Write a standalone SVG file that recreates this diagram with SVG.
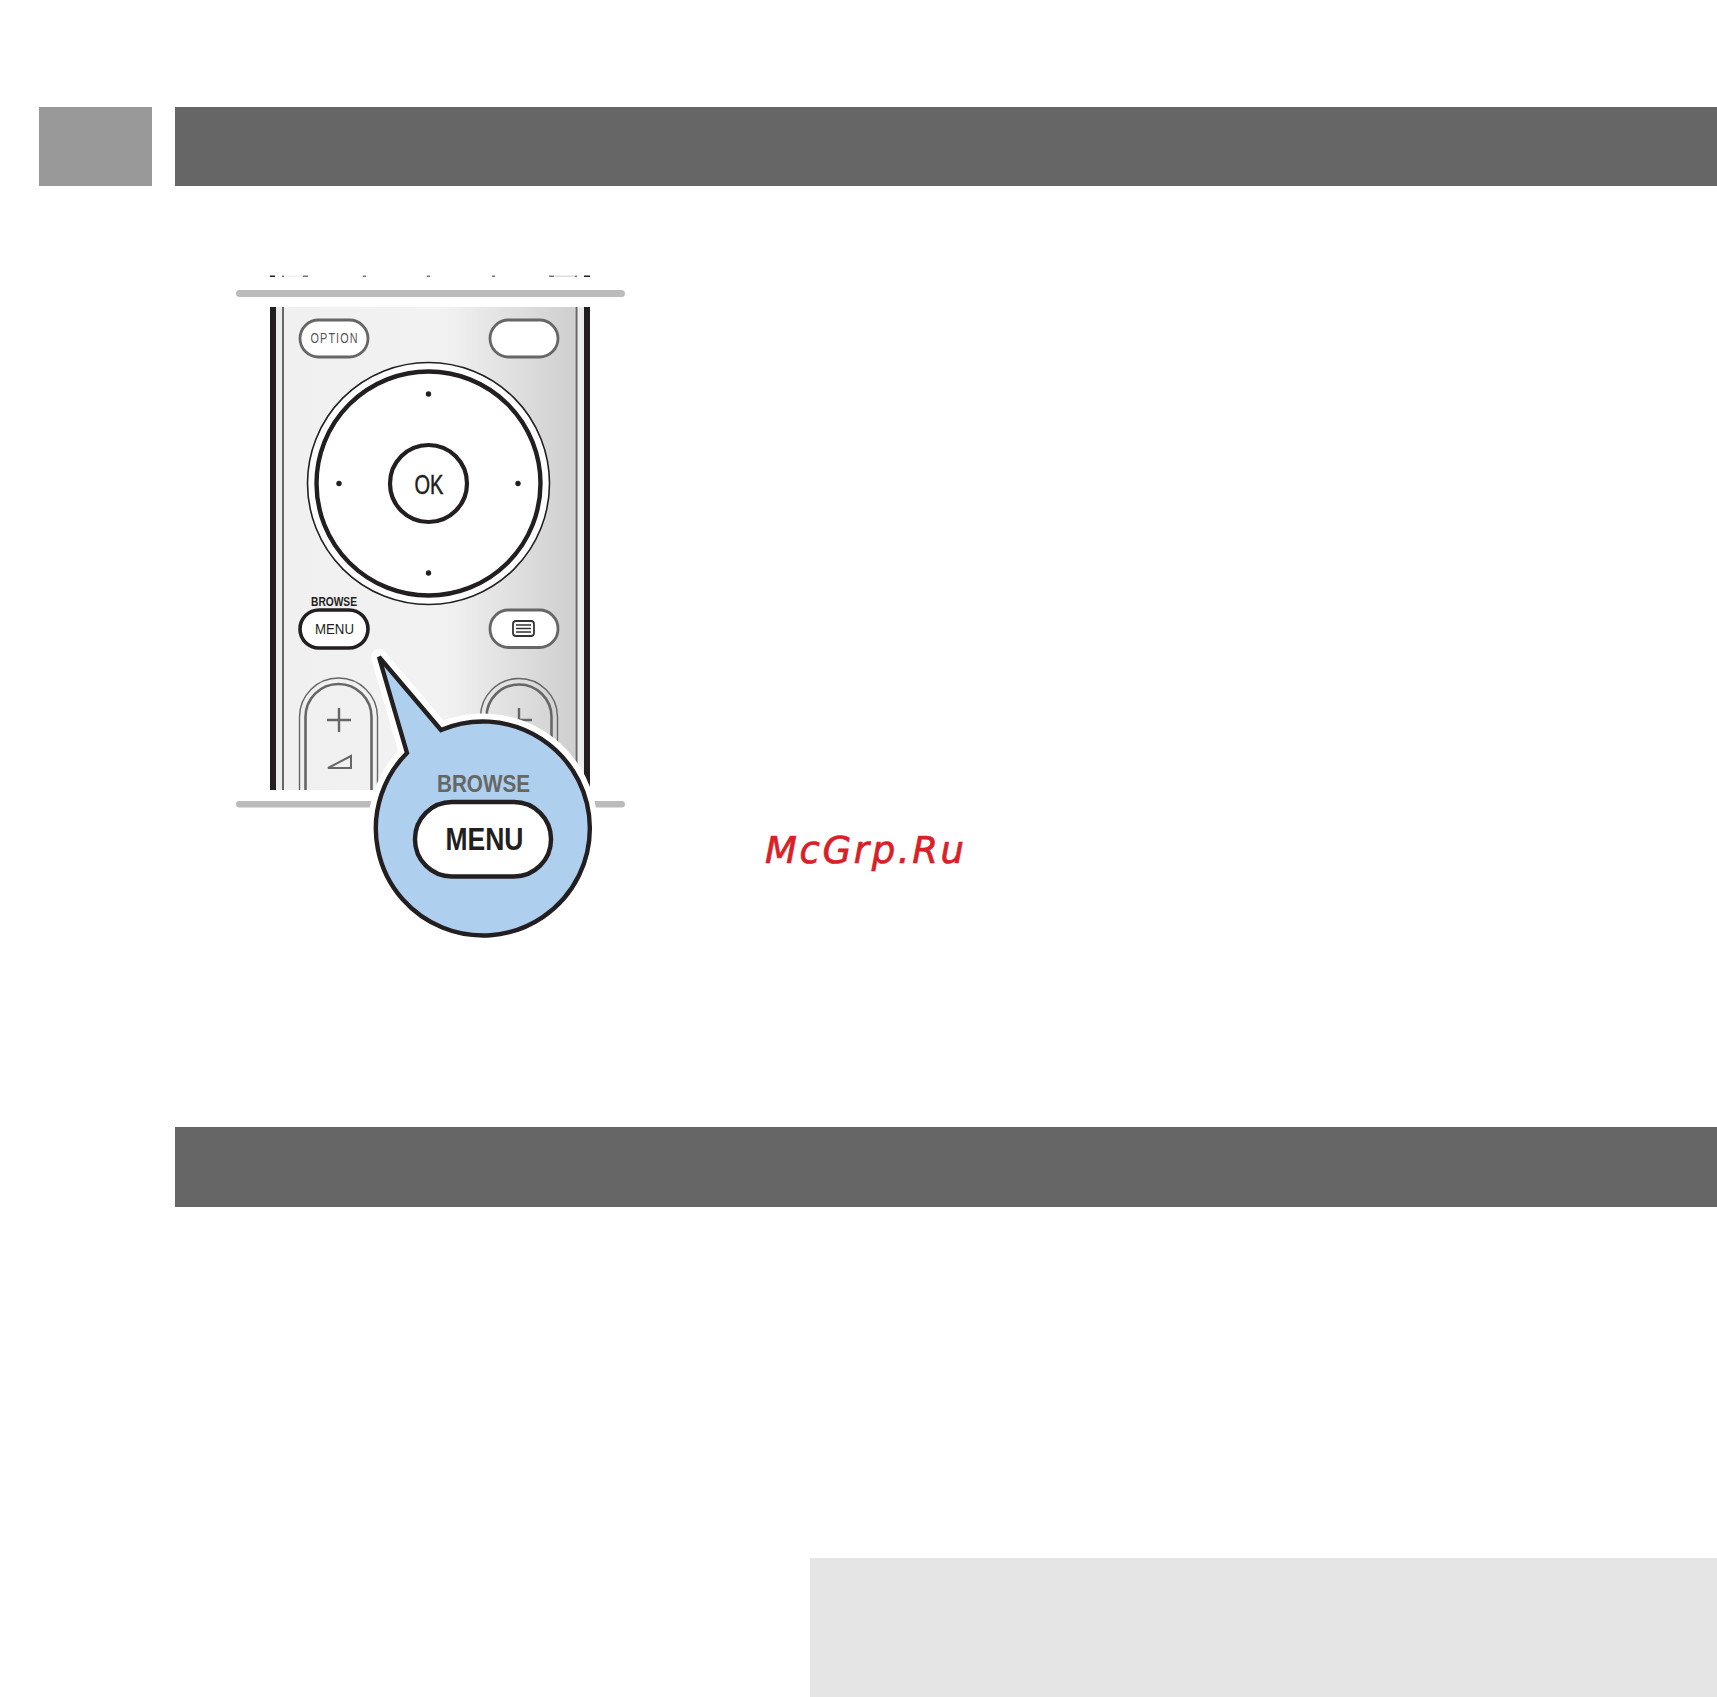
<svg xmlns="http://www.w3.org/2000/svg" width="1717" height="1697" viewBox="0 0 1717 1697">
<defs>
<linearGradient id="panel" x1="0" x2="1" y1="0" y2="0"><stop offset="0" stop-color="#f0f0f0"/><stop offset="0.55" stop-color="#f2f2f2"/><stop offset="1" stop-color="#cfcfcf"/></linearGradient>
<clipPath id="cut"><rect x="260" y="307" width="340" height="483"/></clipPath>
</defs>
<style>
text{font-family:"Liberation Sans Narrow","Liberation Sans",Arial,sans-serif}
.grey{fill:#fff;stroke:#666;stroke-width:2.8}
.blk{fill:#fff;stroke:#231f20;stroke-width:3.6}
.thin{fill:none;stroke:#666;stroke-width:1.4}
.med{fill:none;stroke:#666;stroke-width:2.6}
.dot{fill:#231f20}
.rail{fill:#bbb}
.tick{fill:#777}
.ink{fill:#231f20}
</style>
<rect width="1717" height="1697" fill="#fff"/>
<g id="section-number"><rect x="39" y="107" width="113" height="79" fill="#999"/></g>
<g id="header-1"><rect x="175" y="107" width="1542" height="79" fill="#666"/></g>
<g id="header-2"><rect x="175" y="1127" width="1542" height="80" fill="#666"/></g>
<g id="note-box"><rect x="810" y="1558" width="907" height="139" fill="#e5e5e5"/></g>

<g id="remote-top-fragments">
<rect class="ink" x="270" y="275.500" width="5" height="1.500"/><rect class="tick" x="282" y="275.500" width="2" height="1.500"/><rect x="284" y="275.500" width="19" height="1.500" fill="#f2f2f2"/><rect class="tick" x="303" y="275.500" width="5" height="1.500"/>
<rect class="tick" x="363" y="275.500" width="3" height="1.500"/><rect class="tick" x="427" y="275.500" width="3" height="1.500"/><rect class="tick" x="492" y="275.500" width="3" height="1.500"/>
<rect class="tick" x="549" y="275.500" width="5" height="1.500"/><rect x="554" y="275.500" width="21" height="1.500" fill="#ddd"/><rect class="tick" x="575" y="275.500" width="2" height="1.500"/><rect class="ink" x="584" y="275.500" width="6" height="1.500"/>
</g>
<g id="rail-top"><rect class="rail" x="236" y="290" width="389" height="7" rx="3.500"/></g>
<g id="rail-bottom"><rect class="rail" x="236" y="801" width="389" height="6.500" rx="3.250"/></g>

<g id="remote" clip-path="url(#cut)">
<rect x="276" y="307" width="308" height="483" fill="#ececec"/>
<rect x="284" y="307" width="291" height="483" fill="url(#panel)"/>
<rect class="ink" x="270" y="307" width="6" height="483"/>
<rect class="ink" x="584" y="307" width="6" height="483"/>
<rect fill="#666" x="282" y="307" width="2" height="483"/>
<rect fill="#666" x="575.500" y="307" width="2" height="483"/>
</g>

<g id="btn-option">
<rect class="grey" x="300" y="320" width="68" height="37" rx="18.500"/>
<text transform="translate(310.500 343) scale(0.72 1)" font-size="15" letter-spacing="1.600" fill="#555">OPTION</text>
</g>
<g id="btn-blank"><rect class="grey" x="490" y="320" width="68" height="37" rx="18.500"/></g>
<g id="dpad">
<circle cx="428.500" cy="483.500" r="121" fill="#fff" stroke="#231f20" stroke-width="1.600"/>
<circle cx="428.500" cy="483.500" r="112" fill="#fff" stroke="#231f20" stroke-width="4.400"/>
<circle class="dot" cx="428.500" cy="394" r="2.700"/><circle class="dot" cx="339" cy="483.500" r="2.700"/><circle class="dot" cx="518" cy="483.500" r="2.700"/><circle class="dot" cx="428.500" cy="573" r="2.700"/>
</g>
<g id="btn-ok">
<circle cx="428.500" cy="483.500" r="38.500" fill="#fff" stroke="#231f20" stroke-width="4.200"/>
<text x="414.500" y="494" font-size="27" fill="#231f20" stroke="#231f20" stroke-width="0.500" textLength="29" lengthAdjust="spacingAndGlyphs">OK</text>
</g>
<g id="btn-menu">
<text x="311" y="606" font-size="12.500" font-weight="700" fill="#231f20" textLength="46" lengthAdjust="spacingAndGlyphs">BROWSE</text>
<rect class="blk" x="300" y="610" width="68" height="38" rx="19"/>
<text x="315" y="634" font-size="15.500" fill="#231f20" textLength="39" lengthAdjust="spacingAndGlyphs">MENU</text>
</g>
<g id="btn-teletext">
<rect class="grey" x="490" y="610" width="68" height="37.500" rx="18.500"/>
<rect x="513" y="621" width="21" height="15" rx="3" fill="none" stroke="#333" stroke-width="1.800"/>
<path d="M516 625H531M516 628.500H531M516 632H531" fill="none" stroke="#333" stroke-width="1.500"/>
</g>
<g id="btn-volume">
<path class="thin" d="M299.500 790V717A39 39 0 0 1 377.500 717V790"/>
<path class="med" d="M305.500 790V717A33 33 0 0 1 371.500 717V790"/>
<path d="M339 708V732M327 720H351" fill="none" stroke="#666" stroke-width="2.400"/>
<path d="M328 768L351 756V768Z" fill="none" stroke="#666" stroke-width="2"/>
</g>
<g id="btn-channel">
<path class="thin" d="M480.500 790V717A38.500 38.500 0 0 1 557.500 717V790"/>
<path class="med" d="M486.500 790V717A32.500 32.500 0 0 1 551.500 717V790"/>
<path d="M519 708V720H532" fill="none" stroke="#666" stroke-width="2.400"/>
</g>
<g id="callout">
<path d="M379 657L441 730A107 107 0 1 1 407 753Z" fill="#fff" stroke="#fff" stroke-width="16" stroke-linejoin="round"/>
<path d="M379 657L441 730A107 107 0 1 1 407 753Z" fill="#aecfed" stroke="#231f20" stroke-width="4.400" stroke-linejoin="miter"/>
<text x="437" y="792" font-size="24" font-weight="700" fill="#666" textLength="93" lengthAdjust="spacingAndGlyphs">BROWSE</text>
<rect x="415" y="802" width="136" height="74.500" rx="37" fill="#fff" stroke="#231f20" stroke-width="4.400"/>
<text x="445.500" y="849.500" font-size="31" font-weight="700" fill="#231f20" textLength="78" lengthAdjust="spacingAndGlyphs">MENU</text>
</g>
<g id="watermark"><text x="765" y="863" font-size="37" font-style="italic" fill="#d92027" stroke="#d92027" stroke-width="0.700" style="font-family:'DejaVu Sans',sans-serif" textLength="199" lengthAdjust="spacing">McGrp.Ru</text></g>
</svg>
